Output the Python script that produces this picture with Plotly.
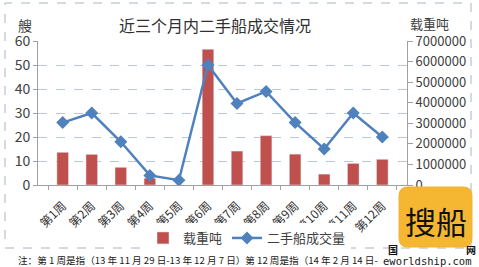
import plotly.graph_objects as go

weeks = ["第1周", "第2周", "第3周", "第4周", "第5周", "第6周", "第7周", "第8周", "第9周", "第10周", "第11周", "第12周"]
dwt = [1590000, 1490000, 860000, 330000, 0, 6600000, 1650000, 2400000, 1500000, 530000, 1050000, 1250000]
ships = [26, 30, 18, 4, 2, 50, 34, 39, 26, 15, 30, 20]

FONT = "Noto Sans CJK SC"
RED = "#C0504D"
BLUE = "#4F81BD"

L, R, T, B = 38, 407, 41, 185
PW, PH = R - L, B - T


def px(x):
    return (x - L) / PW


def py(y):
    return (B - y) / PH


fig = go.Figure()
fig.add_trace(go.Bar(x=weeks, y=dwt, name="载重吨", marker_color=RED, yaxis="y"))
fig.add_trace(go.Scatter(x=weeks, y=ships, name="二手船成交量", mode="lines+markers",
                         line=dict(color=BLUE, width=2.5),
                         marker=dict(symbol="diamond", size=10, color=BLUE), yaxis="y2"))

fig.update_layout(
    width=479, height=267,
    margin=dict(l=L, r=479 - R, t=T, b=267 - B),
    paper_bgcolor="white", plot_bgcolor="white",
    font=dict(family=FONT, color="#404040", size=12),
    bargap=0.6,
    showlegend=True,
    legend=dict(orientation="h", x=px(143), y=py(238), xanchor="left", yanchor="middle",
                font=dict(size=13, color="#404040"), itemwidth=30, tracegroupgap=0),
    xaxis=dict(showline=True, linecolor="#A0A0A0", ticks="outside", tickson="boundaries",
               ticklen=4, tickcolor="#A0A0A0", tickangle=-45, ticklabelstandoff=8,
               tickfont=dict(size=12, color="#303030")),
    yaxis=dict(side="right", range=[0, 7000000], dtick=1000000, showgrid=False,
               showline=True, linecolor="#A0A0A0", ticks="outside", ticklen=5, tickcolor="#A0A0A0",
               tickfont=dict(size=13, color="#404040"), tickformat="d", zeroline=False),
    yaxis2=dict(side="left", overlaying="y", range=[0, 60], dtick=10, showgrid=True,
                gridcolor="#B9C7DA", griddash="dash", gridwidth=1,
                showline=True, linecolor="#A0A0A0", ticks="outside", ticklen=4, tickcolor="#A0A0A0",
                tickfont=dict(size=14, color="#404040"), zeroline=False),
)

fig.add_annotation(text="近三个月内二手船成交情况", xref="paper", yref="paper", x=px(215), y=py(25),
                   xanchor="center", yanchor="middle",
                   showarrow=False, font=dict(size=16, color="#303030", family=FONT))
fig.add_annotation(text="艘", xref="paper", yref="paper", x=px(25), y=py(25),
                   xanchor="center", yanchor="middle",
                   showarrow=False, font=dict(size=14, color="#404040", family=FONT))
fig.add_annotation(text="载重吨", xref="paper", yref="paper", x=px(429), y=py(24),
                   xanchor="center", yanchor="middle",
                   showarrow=False, font=dict(size=13, color="#404040", family=FONT))
fig.add_annotation(text="注：第 1 周是指（13 年 11 月 29 日-13 年 12 月 7 日）第 12 周是指（14 年 2 月 14 日-",
                   xref="paper", yref="paper", x=px(16), y=py(260), xanchor="left", yanchor="middle",
                   showarrow=False, font=dict(size=9.6, color="#202020", family=FONT))

# dashed chart border
fig.add_shape(type="rect", xref="paper", yref="paper",
              x0=px(5), x1=px(471), y0=py(248), y1=py(3),
              line=dict(color="#A8B4C4", width=1, dash="dash"), fillcolor="rgba(0,0,0,0)", layer="below")

# watermark logos
fig.add_annotation(text="<b>国</b>", xref="paper", yref="paper", x=px(386), y=py(249),
                   xanchor="left", yanchor="middle",
                   showarrow=False, font=dict(size=10, color="#111111", family=FONT))
fig.add_annotation(text="<b>网</b>", xref="paper", yref="paper", x=px(478), y=py(249),
                   xanchor="right", yanchor="middle",
                   showarrow=False, font=dict(size=10, color="#111111", family=FONT))
fig.add_annotation(text="eworldship.com", xref="paper", yref="paper", x=px(381), y=py(261),
                   xanchor="left", yanchor="middle",
                   showarrow=False, font=dict(size=10.5, color="#202020", family="DejaVu Sans Mono"))

x0, x1, y0, y1, r = 399, 472, 187, 247, 9
pts = [("M", x0 + r, y0), ("L", x1 - r, y0), ("Q", x1, y0, x1, y0 + r), ("L", x1, y1 - r),
       ("Q", x1, y1, x1 - r, y1), ("L", x0 + r, y1), ("Q", x0, y1, x0, y1 - r),
       ("L", x0, y0 + r), ("Q", x0, y0, x0 + r, y0)]
parts = []
for p in pts:
    cmd, vals = p[0], p[1:]
    xy = [f"{px(vals[i]):.5f},{py(vals[i + 1]):.5f}" for i in range(0, len(vals), 2)]
    parts.append(cmd + " " + " ".join(xy))
fig.add_shape(type="path", xref="paper", yref="paper", path=" ".join(parts) + " Z",
              line=dict(color="#F2B134", width=1), fillcolor="#F5B731", layer="above")
fig.add_annotation(text="搜船", xref="paper", yref="paper", x=px(436), y=py(220),
                   xanchor="center", yanchor="middle",
                   showarrow=False, font=dict(size=31, color="#111111", family=FONT))

fig.write_html("out.html")
